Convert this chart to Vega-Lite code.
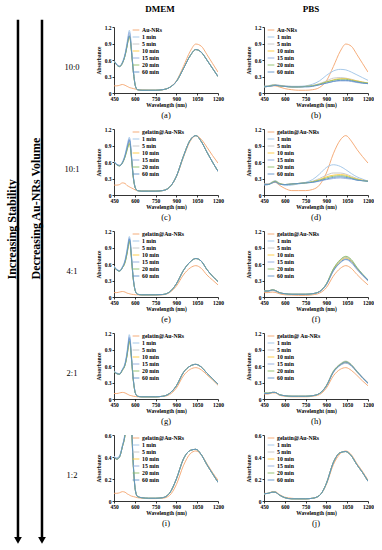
{
"$schema":"https://vega.github.io/schema/vega-lite/v6.json",
"background":"white",
"padding":0,
"autosize":{"type":"pad"},
"spacing":0,
"resolve":{"scale":{"color":"independent"},"legend":{"color":"independent"}},
"datasets":{
"a":[
{"w":450,"g":0.13,"m1":0.59,"m5":0.58,"m10":0.58,"m15":0.59,"m20":0.58,"m60":0.58},
{"w":470,"g":0.13,"m1":0.52,"m5":0.51,"m10":0.51,"m15":0.52,"m20":0.51,"m60":0.51},
{"w":490,"g":0.14,"m1":0.49,"m5":0.48,"m10":0.48,"m15":0.49,"m20":0.48,"m60":0.48},
{"w":510,"g":0.155,"m1":0.56,"m5":0.54,"m10":0.54,"m15":0.55,"m20":0.54,"m60":0.54},
{"w":530,"g":0.14,"m1":0.72,"m5":0.69,"m10":0.68,"m15":0.70,"m20":0.68,"m60":0.69},
{"w":545,"g":0.12,"m1":0.93,"m5":0.88,"m10":0.86,"m15":0.90,"m20":0.86,"m60":0.87},
{"w":553,"g":0.11,"m1":1.06,"m5":0.99,"m10":0.96,"m15":1.02,"m20":0.97,"m60":0.98},
{"w":560,"g":0.10,"m1":1.14,"m5":1.06,"m10":1.01,"m15":1.10,"m20":1.03,"m60":1.04},
{"w":567,"g":0.095,"m1":1.08,"m5":1.01,"m10":0.97,"m15":1.04,"m20":0.98,"m60":0.99},
{"w":575,"g":0.09,"m1":0.85,"m5":0.80,"m10":0.77,"m15":0.82,"m20":0.78,"m60":0.79},
{"w":590,"g":0.08,"m1":0.40,"m5":0.38,"m10":0.37,"m15":0.39,"m20":0.38,"m60":0.38},
{"w":605,"g":0.07,"m1":0.13,"m5":0.12,"m10":0.12,"m15":0.12,"m20":0.12,"m60":0.12},
{"w":620,"g":0.06,"m1":0.06,"m5":0.06,"m10":0.06,"m15":0.06,"m20":0.06,"m60":0.06},
{"w":650,"g":0.055,"m1":0.05,"m5":0.05,"m10":0.05,"m15":0.05,"m20":0.05,"m60":0.05},
{"w":700,"g":0.05,"m1":0.05,"m5":0.05,"m10":0.05,"m15":0.05,"m20":0.05,"m60":0.05},
{"w":750,"g":0.05,"m1":0.05,"m5":0.05,"m10":0.05,"m15":0.05,"m20":0.05,"m60":0.05},
{"w":800,"g":0.06,"m1":0.06,"m5":0.06,"m10":0.06,"m15":0.06,"m20":0.06,"m60":0.06},
{"w":850,"g":0.10,"m1":0.10,"m5":0.10,"m10":0.10,"m15":0.10,"m20":0.10,"m60":0.10},
{"w":900,"g":0.22,"m1":0.21,"m5":0.21,"m10":0.21,"m15":0.21,"m20":0.21,"m60":0.21},
{"w":950,"g":0.48,"m1":0.44,"m5":0.44,"m10":0.44,"m15":0.44,"m20":0.44,"m60":0.44},
{"w":1000,"g":0.76,"m1":0.68,"m5":0.68,"m10":0.68,"m15":0.68,"m20":0.68,"m60":0.68},
{"w":1040,"g":0.89,"m1":0.79,"m5":0.79,"m10":0.79,"m15":0.79,"m20":0.79,"m60":0.79},
{"w":1080,"g":0.85,"m1":0.74,"m5":0.74,"m10":0.74,"m15":0.74,"m20":0.74,"m60":0.74},
{"w":1120,"g":0.70,"m1":0.60,"m5":0.60,"m10":0.60,"m15":0.60,"m20":0.60,"m60":0.60},
{"w":1160,"g":0.54,"m1":0.45,"m5":0.45,"m10":0.45,"m15":0.45,"m20":0.45,"m60":0.45},
{"w":1200,"g":0.38,"m1":0.30,"m5":0.30,"m10":0.30,"m15":0.30,"m20":0.30,"m60":0.30}
],
"b":[
{"w":450,"g":0.12,"m1":0.12,"m5":0.12,"m10":0.11,"m15":0.11,"m20":0.12,"m60":0.11},
{"w":480,"g":0.12,"m1":0.13,"m5":0.13,"m10":0.12,"m15":0.12,"m20":0.12,"m60":0.12},
{"w":510,"g":0.13,"m1":0.15,"m5":0.14,"m10":0.14,"m15":0.13,"m20":0.14,"m60":0.13},
{"w":530,"g":0.13,"m1":0.155,"m5":0.15,"m10":0.14,"m15":0.14,"m20":0.14,"m60":0.14},
{"w":560,"g":0.11,"m1":0.14,"m5":0.14,"m10":0.13,"m15":0.13,"m20":0.13,"m60":0.13},
{"w":600,"g":0.08,"m1":0.13,"m5":0.13,"m10":0.12,"m15":0.12,"m20":0.12,"m60":0.12},
{"w":650,"g":0.06,"m1":0.12,"m5":0.12,"m10":0.11,"m15":0.11,"m20":0.11,"m60":0.11},
{"w":700,"g":0.05,"m1":0.12,"m5":0.12,"m10":0.11,"m15":0.11,"m20":0.11,"m60":0.11},
{"w":750,"g":0.05,"m1":0.13,"m5":0.12,"m10":0.12,"m15":0.12,"m20":0.12,"m60":0.11},
{"w":800,"g":0.06,"m1":0.16,"m5":0.14,"m10":0.13,"m15":0.13,"m20":0.13,"m60":0.12},
{"w":850,"g":0.10,"m1":0.22,"m5":0.17,"m10":0.16,"m15":0.15,"m20":0.16,"m60":0.15},
{"w":900,"g":0.22,"m1":0.32,"m5":0.22,"m10":0.20,"m15":0.18,"m20":0.20,"m60":0.18},
{"w":950,"g":0.48,"m1":0.40,"m5":0.27,"m10":0.24,"m15":0.21,"m20":0.23,"m60":0.21},
{"w":1000,"g":0.76,"m1":0.43,"m5":0.28,"m10":0.26,"m15":0.22,"m20":0.25,"m60":0.23},
{"w":1040,"g":0.89,"m1":0.42,"m5":0.27,"m10":0.26,"m15":0.22,"m20":0.25,"m60":0.23},
{"w":1080,"g":0.85,"m1":0.38,"m5":0.25,"m10":0.24,"m15":0.21,"m20":0.23,"m60":0.22},
{"w":1120,"g":0.70,"m1":0.33,"m5":0.22,"m10":0.22,"m15":0.19,"m20":0.21,"m60":0.20},
{"w":1160,"g":0.54,"m1":0.28,"m5":0.20,"m10":0.20,"m15":0.18,"m20":0.19,"m60":0.18},
{"w":1200,"g":0.38,"m1":0.23,"m5":0.18,"m10":0.18,"m15":0.17,"m20":0.18,"m60":0.17}
],
"c":[
{"w":450,"g":0.18,"m1":0.61,"m5":0.60,"m10":0.60,"m15":0.61,"m20":0.60,"m60":0.60},
{"w":470,"g":0.18,"m1":0.56,"m5":0.55,"m10":0.55,"m15":0.56,"m20":0.55,"m60":0.55},
{"w":490,"g":0.19,"m1":0.54,"m5":0.53,"m10":0.53,"m15":0.54,"m20":0.53,"m60":0.53},
{"w":510,"g":0.22,"m1":0.60,"m5":0.58,"m10":0.58,"m15":0.59,"m20":0.58,"m60":0.58},
{"w":530,"g":0.21,"m1":0.74,"m5":0.71,"m10":0.70,"m15":0.72,"m20":0.69,"m60":0.71},
{"w":545,"g":0.17,"m1":0.91,"m5":0.85,"m10":0.83,"m15":0.88,"m20":0.82,"m60":0.86},
{"w":553,"g":0.16,"m1":1.00,"m5":0.93,"m10":0.90,"m15":0.97,"m20":0.89,"m60":0.94},
{"w":560,"g":0.15,"m1":1.05,"m5":0.98,"m10":0.95,"m15":1.02,"m20":0.93,"m60":1.00},
{"w":567,"g":0.14,"m1":0.99,"m5":0.93,"m10":0.90,"m15":0.96,"m20":0.88,"m60":0.94},
{"w":575,"g":0.13,"m1":0.76,"m5":0.72,"m10":0.70,"m15":0.74,"m20":0.69,"m60":0.72},
{"w":590,"g":0.11,"m1":0.33,"m5":0.31,"m10":0.30,"m15":0.32,"m20":0.30,"m60":0.31},
{"w":605,"g":0.09,"m1":0.13,"m5":0.12,"m10":0.12,"m15":0.12,"m20":0.12,"m60":0.12},
{"w":620,"g":0.08,"m1":0.08,"m5":0.08,"m10":0.08,"m15":0.08,"m20":0.08,"m60":0.08},
{"w":650,"g":0.07,"m1":0.07,"m5":0.07,"m10":0.07,"m15":0.07,"m20":0.07,"m60":0.07},
{"w":700,"g":0.07,"m1":0.07,"m5":0.07,"m10":0.07,"m15":0.07,"m20":0.07,"m60":0.07},
{"w":750,"g":0.07,"m1":0.07,"m5":0.07,"m10":0.07,"m15":0.07,"m20":0.07,"m60":0.07},
{"w":800,"g":0.08,"m1":0.08,"m5":0.08,"m10":0.08,"m15":0.08,"m20":0.08,"m60":0.08},
{"w":850,"g":0.14,"m1":0.14,"m5":0.14,"m10":0.14,"m15":0.14,"m20":0.14,"m60":0.14},
{"w":900,"g":0.33,"m1":0.34,"m5":0.34,"m10":0.34,"m15":0.34,"m20":0.34,"m60":0.34},
{"w":950,"g":0.68,"m1":0.70,"m5":0.70,"m10":0.70,"m15":0.70,"m20":0.70,"m60":0.70},
{"w":1000,"g":0.98,"m1":1.00,"m5":1.00,"m10":1.00,"m15":1.00,"m20":1.00,"m60":1.00},
{"w":1040,"g":1.08,"m1":1.08,"m5":1.08,"m10":1.08,"m15":1.08,"m20":1.08,"m60":1.08},
{"w":1080,"g":1.01,"m1":0.97,"m5":0.97,"m10":0.97,"m15":0.97,"m20":0.97,"m60":0.97},
{"w":1120,"g":0.87,"m1":0.78,"m5":0.78,"m10":0.78,"m15":0.78,"m20":0.78,"m60":0.78},
{"w":1160,"g":0.72,"m1":0.60,"m5":0.60,"m10":0.60,"m15":0.60,"m20":0.60,"m60":0.60},
{"w":1200,"g":0.58,"m1":0.43,"m5":0.43,"m10":0.43,"m15":0.43,"m20":0.43,"m60":0.43}
],
"d":[
{"w":450,"g":0.20,"m1":0.20,"m5":0.19,"m10":0.19,"m15":0.18,"m20":0.19,"m60":0.19},
{"w":480,"g":0.20,"m1":0.20,"m5":0.20,"m10":0.19,"m15":0.19,"m20":0.19,"m60":0.19},
{"w":510,"g":0.22,"m1":0.24,"m5":0.23,"m10":0.23,"m15":0.22,"m20":0.23,"m60":0.22},
{"w":530,"g":0.23,"m1":0.26,"m5":0.25,"m10":0.25,"m15":0.24,"m20":0.25,"m60":0.24},
{"w":560,"g":0.18,"m1":0.22,"m5":0.21,"m10":0.21,"m15":0.20,"m20":0.21,"m60":0.20},
{"w":600,"g":0.12,"m1":0.17,"m5":0.19,"m10":0.19,"m15":0.19,"m20":0.19,"m60":0.19},
{"w":650,"g":0.08,"m1":0.18,"m5":0.20,"m10":0.20,"m15":0.20,"m20":0.20,"m60":0.20},
{"w":700,"g":0.08,"m1":0.20,"m5":0.21,"m10":0.21,"m15":0.21,"m20":0.21,"m60":0.21},
{"w":750,"g":0.08,"m1":0.23,"m5":0.22,"m10":0.22,"m15":0.22,"m20":0.22,"m60":0.22},
{"w":800,"g":0.10,"m1":0.28,"m5":0.25,"m10":0.24,"m15":0.23,"m20":0.24,"m60":0.23},
{"w":850,"g":0.18,"m1":0.38,"m5":0.30,"m10":0.28,"m15":0.25,"m20":0.27,"m60":0.26},
{"w":900,"g":0.40,"m1":0.50,"m5":0.36,"m10":0.33,"m15":0.28,"m20":0.31,"m60":0.29},
{"w":950,"g":0.75,"m1":0.55,"m5":0.40,"m10":0.36,"m15":0.30,"m20":0.34,"m60":0.32},
{"w":1000,"g":1.00,"m1":0.52,"m5":0.40,"m10":0.37,"m15":0.31,"m20":0.35,"m60":0.33},
{"w":1040,"g":1.08,"m1":0.46,"m5":0.38,"m10":0.36,"m15":0.30,"m20":0.34,"m60":0.32},
{"w":1080,"g":0.98,"m1":0.39,"m5":0.34,"m10":0.32,"m15":0.29,"m20":0.31,"m60":0.30},
{"w":1120,"g":0.83,"m1":0.33,"m5":0.30,"m10":0.29,"m15":0.27,"m20":0.28,"m60":0.27},
{"w":1160,"g":0.70,"m1":0.29,"m5":0.27,"m10":0.27,"m15":0.26,"m20":0.26,"m60":0.26},
{"w":1200,"g":0.58,"m1":0.25,"m5":0.25,"m10":0.25,"m15":0.25,"m20":0.25,"m60":0.25}
],
"e":[
{"w":450,"g":0.08,"m1":0.56,"m5":0.55,"m10":0.55,"m15":0.56,"m20":0.55,"m60":0.55},
{"w":470,"g":0.08,"m1":0.50,"m5":0.49,"m10":0.49,"m15":0.50,"m20":0.49,"m60":0.49},
{"w":490,"g":0.09,"m1":0.48,"m5":0.47,"m10":0.47,"m15":0.48,"m20":0.47,"m60":0.47},
{"w":510,"g":0.10,"m1":0.55,"m5":0.53,"m10":0.53,"m15":0.54,"m20":0.53,"m60":0.53},
{"w":530,"g":0.09,"m1":0.68,"m5":0.64,"m10":0.63,"m15":0.66,"m20":0.63,"m60":0.65},
{"w":545,"g":0.07,"m1":0.88,"m5":0.82,"m10":0.80,"m15":0.85,"m20":0.80,"m60":0.83},
{"w":553,"g":0.065,"m1":1.01,"m5":0.94,"m10":0.92,"m15":0.98,"m20":0.92,"m60":0.95},
{"w":560,"g":0.06,"m1":1.10,"m5":1.04,"m10":1.01,"m15":1.07,"m20":1.02,"m60":1.05},
{"w":567,"g":0.055,"m1":1.04,"m5":0.98,"m10":0.96,"m15":1.01,"m20":0.96,"m60":0.99},
{"w":575,"g":0.05,"m1":0.79,"m5":0.75,"m10":0.73,"m15":0.77,"m20":0.72,"m60":0.75},
{"w":590,"g":0.045,"m1":0.33,"m5":0.31,"m10":0.30,"m15":0.32,"m20":0.30,"m60":0.31},
{"w":605,"g":0.04,"m1":0.11,"m5":0.10,"m10":0.10,"m15":0.10,"m20":0.10,"m60":0.10},
{"w":620,"g":0.04,"m1":0.05,"m5":0.05,"m10":0.05,"m15":0.05,"m20":0.05,"m60":0.05},
{"w":650,"g":0.035,"m1":0.04,"m5":0.04,"m10":0.04,"m15":0.04,"m20":0.04,"m60":0.04},
{"w":700,"g":0.035,"m1":0.04,"m5":0.04,"m10":0.04,"m15":0.04,"m20":0.04,"m60":0.04},
{"w":750,"g":0.035,"m1":0.04,"m5":0.04,"m10":0.04,"m15":0.04,"m20":0.04,"m60":0.04},
{"w":800,"g":0.04,"m1":0.045,"m5":0.045,"m10":0.045,"m15":0.045,"m20":0.045,"m60":0.045},
{"w":850,"g":0.08,"m1":0.09,"m5":0.09,"m10":0.09,"m15":0.09,"m20":0.09,"m60":0.09},
{"w":900,"g":0.20,"m1":0.24,"m5":0.24,"m10":0.24,"m15":0.24,"m20":0.24,"m60":0.24},
{"w":950,"g":0.40,"m1":0.48,"m5":0.48,"m10":0.48,"m15":0.48,"m20":0.48,"m60":0.48},
{"w":1000,"g":0.53,"m1":0.64,"m5":0.64,"m10":0.64,"m15":0.64,"m20":0.64,"m60":0.64},
{"w":1040,"g":0.57,"m1":0.70,"m5":0.70,"m10":0.70,"m15":0.70,"m20":0.70,"m60":0.70},
{"w":1080,"g":0.52,"m1":0.65,"m5":0.65,"m10":0.65,"m15":0.65,"m20":0.65,"m60":0.65},
{"w":1120,"g":0.40,"m1":0.50,"m5":0.50,"m10":0.50,"m15":0.50,"m20":0.50,"m60":0.50},
{"w":1160,"g":0.31,"m1":0.38,"m5":0.38,"m10":0.38,"m15":0.38,"m20":0.38,"m60":0.38},
{"w":1200,"g":0.22,"m1":0.28,"m5":0.28,"m10":0.28,"m15":0.28,"m20":0.28,"m60":0.28}
],
"f":[
{"w":450,"g":0.08,"m1":0.11,"m5":0.11,"m10":0.11,"m15":0.10,"m20":0.11,"m60":0.11},
{"w":480,"g":0.08,"m1":0.11,"m5":0.11,"m10":0.11,"m15":0.10,"m20":0.11,"m60":0.11},
{"w":510,"g":0.09,"m1":0.13,"m5":0.13,"m10":0.13,"m15":0.12,"m20":0.13,"m60":0.13},
{"w":530,"g":0.085,"m1":0.12,"m5":0.12,"m10":0.12,"m15":0.11,"m20":0.12,"m60":0.12},
{"w":560,"g":0.06,"m1":0.08,"m5":0.08,"m10":0.08,"m15":0.08,"m20":0.08,"m60":0.08},
{"w":600,"g":0.04,"m1":0.06,"m5":0.06,"m10":0.06,"m15":0.06,"m20":0.06,"m60":0.06},
{"w":650,"g":0.035,"m1":0.05,"m5":0.05,"m10":0.05,"m15":0.05,"m20":0.05,"m60":0.05},
{"w":700,"g":0.03,"m1":0.05,"m5":0.05,"m10":0.05,"m15":0.05,"m20":0.05,"m60":0.05},
{"w":750,"g":0.03,"m1":0.05,"m5":0.05,"m10":0.05,"m15":0.05,"m20":0.05,"m60":0.05},
{"w":800,"g":0.04,"m1":0.06,"m5":0.06,"m10":0.06,"m15":0.06,"m20":0.06,"m60":0.06},
{"w":850,"g":0.07,"m1":0.10,"m5":0.10,"m10":0.10,"m15":0.09,"m20":0.10,"m60":0.10},
{"w":900,"g":0.17,"m1":0.24,"m5":0.24,"m10":0.23,"m15":0.22,"m20":0.24,"m60":0.23},
{"w":950,"g":0.38,"m1":0.50,"m5":0.51,"m10":0.49,"m15":0.47,"m20":0.51,"m60":0.48},
{"w":1000,"g":0.52,"m1":0.66,"m5":0.67,"m10":0.65,"m15":0.62,"m20":0.68,"m60":0.63},
{"w":1040,"g":0.57,"m1":0.72,"m5":0.73,"m10":0.71,"m15":0.68,"m20":0.74,"m60":0.69},
{"w":1080,"g":0.52,"m1":0.66,"m5":0.67,"m10":0.65,"m15":0.62,"m20":0.68,"m60":0.64},
{"w":1120,"g":0.41,"m1":0.52,"m5":0.53,"m10":0.52,"m15":0.50,"m20":0.54,"m60":0.52},
{"w":1160,"g":0.31,"m1":0.40,"m5":0.41,"m10":0.40,"m15":0.39,"m20":0.42,"m60":0.41},
{"w":1200,"g":0.22,"m1":0.30,"m5":0.31,"m10":0.30,"m15":0.29,"m20":0.31,"m60":0.31}
],
"g":[
{"w":450,"g":0.10,"m1":0.51,"m5":0.50,"m10":0.50,"m15":0.51,"m20":0.50,"m60":0.50},
{"w":470,"g":0.10,"m1":0.47,"m5":0.46,"m10":0.46,"m15":0.47,"m20":0.46,"m60":0.46},
{"w":490,"g":0.11,"m1":0.46,"m5":0.45,"m10":0.45,"m15":0.46,"m20":0.45,"m60":0.45},
{"w":510,"g":0.12,"m1":0.54,"m5":0.52,"m10":0.52,"m15":0.53,"m20":0.52,"m60":0.53},
{"w":530,"g":0.11,"m1":0.66,"m5":0.62,"m10":0.62,"m15":0.64,"m20":0.62,"m60":0.63},
{"w":545,"g":0.09,"m1":0.88,"m5":0.81,"m10":0.80,"m15":0.85,"m20":0.80,"m60":0.83},
{"w":553,"g":0.08,"m1":1.05,"m5":0.96,"m10":0.94,"m15":1.01,"m20":0.94,"m60":0.98},
{"w":560,"g":0.07,"m1":1.17,"m5":1.08,"m10":1.05,"m15":1.13,"m20":1.05,"m60":1.10},
{"w":567,"g":0.065,"m1":1.10,"m5":1.02,"m10":0.99,"m15":1.06,"m20":0.99,"m60":1.03},
{"w":575,"g":0.06,"m1":0.83,"m5":0.78,"m10":0.76,"m15":0.80,"m20":0.76,"m60":0.78},
{"w":590,"g":0.05,"m1":0.35,"m5":0.33,"m10":0.32,"m15":0.34,"m20":0.32,"m60":0.33},
{"w":605,"g":0.045,"m1":0.11,"m5":0.10,"m10":0.10,"m15":0.10,"m20":0.10,"m60":0.10},
{"w":620,"g":0.04,"m1":0.05,"m5":0.05,"m10":0.05,"m15":0.05,"m20":0.05,"m60":0.05},
{"w":650,"g":0.04,"m1":0.04,"m5":0.04,"m10":0.04,"m15":0.04,"m20":0.04,"m60":0.04},
{"w":700,"g":0.04,"m1":0.04,"m5":0.04,"m10":0.04,"m15":0.04,"m20":0.04,"m60":0.04},
{"w":750,"g":0.04,"m1":0.04,"m5":0.04,"m10":0.04,"m15":0.04,"m20":0.04,"m60":0.04},
{"w":800,"g":0.045,"m1":0.05,"m5":0.05,"m10":0.05,"m15":0.05,"m20":0.05,"m60":0.05},
{"w":850,"g":0.08,"m1":0.10,"m5":0.10,"m10":0.10,"m15":0.10,"m20":0.10,"m60":0.10},
{"w":900,"g":0.20,"m1":0.24,"m5":0.24,"m10":0.24,"m15":0.24,"m20":0.24,"m60":0.24},
{"w":950,"g":0.42,"m1":0.48,"m5":0.48,"m10":0.48,"m15":0.48,"m20":0.48,"m60":0.48},
{"w":1000,"g":0.54,"m1":0.60,"m5":0.60,"m10":0.60,"m15":0.60,"m20":0.60,"m60":0.60},
{"w":1040,"g":0.57,"m1":0.63,"m5":0.63,"m10":0.63,"m15":0.63,"m20":0.63,"m60":0.63},
{"w":1080,"g":0.53,"m1":0.58,"m5":0.58,"m10":0.58,"m15":0.58,"m20":0.58,"m60":0.58},
{"w":1120,"g":0.44,"m1":0.47,"m5":0.47,"m10":0.47,"m15":0.47,"m20":0.47,"m60":0.47},
{"w":1160,"g":0.35,"m1":0.37,"m5":0.37,"m10":0.37,"m15":0.37,"m20":0.37,"m60":0.37},
{"w":1200,"g":0.25,"m1":0.27,"m5":0.27,"m10":0.27,"m15":0.27,"m20":0.27,"m60":0.27}
],
"h":[
{"w":450,"g":0.09,"m1":0.11,"m5":0.11,"m10":0.10,"m15":0.10,"m20":0.11,"m60":0.10},
{"w":480,"g":0.09,"m1":0.11,"m5":0.11,"m10":0.10,"m15":0.10,"m20":0.11,"m60":0.10},
{"w":510,"g":0.11,"m1":0.12,"m5":0.12,"m10":0.12,"m15":0.12,"m20":0.12,"m60":0.12},
{"w":530,"g":0.11,"m1":0.12,"m5":0.12,"m10":0.12,"m15":0.12,"m20":0.12,"m60":0.12},
{"w":560,"g":0.07,"m1":0.08,"m5":0.08,"m10":0.08,"m15":0.08,"m20":0.08,"m60":0.08},
{"w":600,"g":0.05,"m1":0.06,"m5":0.06,"m10":0.06,"m15":0.06,"m20":0.06,"m60":0.06},
{"w":650,"g":0.04,"m1":0.05,"m5":0.05,"m10":0.05,"m15":0.05,"m20":0.05,"m60":0.05},
{"w":700,"g":0.04,"m1":0.05,"m5":0.05,"m10":0.05,"m15":0.05,"m20":0.05,"m60":0.05},
{"w":750,"g":0.04,"m1":0.05,"m5":0.05,"m10":0.05,"m15":0.05,"m20":0.05,"m60":0.05},
{"w":800,"g":0.05,"m1":0.06,"m5":0.06,"m10":0.06,"m15":0.06,"m20":0.06,"m60":0.06},
{"w":850,"g":0.08,"m1":0.10,"m5":0.10,"m10":0.10,"m15":0.10,"m20":0.10,"m60":0.10},
{"w":900,"g":0.20,"m1":0.24,"m5":0.25,"m10":0.24,"m15":0.23,"m20":0.24,"m60":0.24},
{"w":950,"g":0.42,"m1":0.50,"m5":0.51,"m10":0.49,"m15":0.48,"m20":0.50,"m60":0.49},
{"w":1000,"g":0.54,"m1":0.63,"m5":0.64,"m10":0.62,"m15":0.61,"m20":0.63,"m60":0.62},
{"w":1040,"g":0.57,"m1":0.67,"m5":0.69,"m10":0.66,"m15":0.65,"m20":0.68,"m60":0.67},
{"w":1080,"g":0.52,"m1":0.62,"m5":0.63,"m10":0.61,"m15":0.60,"m20":0.62,"m60":0.61},
{"w":1120,"g":0.43,"m1":0.50,"m5":0.51,"m10":0.49,"m15":0.49,"m20":0.50,"m60":0.50},
{"w":1160,"g":0.33,"m1":0.39,"m5":0.40,"m10":0.39,"m15":0.38,"m20":0.39,"m60":0.39},
{"w":1200,"g":0.24,"m1":0.29,"m5":0.30,"m10":0.29,"m15":0.28,"m20":0.29,"m60":0.29}
],
"i":[
{"w":450,"g":0.07,"m1":0.41,"m5":0.40,"m10":0.40,"m15":0.41,"m20":0.40,"m60":0.40},
{"w":470,"g":0.07,"m1":0.39,"m5":0.38,"m10":0.38,"m15":0.39,"m20":0.38,"m60":0.38},
{"w":490,"g":0.075,"m1":0.41,"m5":0.40,"m10":0.40,"m15":0.41,"m20":0.40,"m60":0.40},
{"w":510,"g":0.085,"m1":0.50,"m5":0.49,"m10":0.49,"m15":0.50,"m20":0.49,"m60":0.49},
{"w":530,"g":0.08,"m1":0.63,"m5":0.61,"m10":0.60,"m15":0.62,"m20":0.60,"m60":0.61},
{"w":545,"g":0.065,"m1":0.85,"m5":0.80,"m10":0.78,"m15":0.83,"m20":0.78,"m60":0.81},
{"w":553,"g":0.06,"m1":1.00,"m5":0.93,"m10":0.91,"m15":0.97,"m20":0.91,"m60":0.94},
{"w":560,"g":0.055,"m1":1.10,"m5":1.02,"m10":0.99,"m15":1.06,"m20":0.99,"m60":1.03},
{"w":567,"g":0.05,"m1":1.04,"m5":0.97,"m10":0.94,"m15":1.00,"m20":0.94,"m60":0.98},
{"w":575,"g":0.045,"m1":0.78,"m5":0.74,"m10":0.72,"m15":0.76,"m20":0.72,"m60":0.74},
{"w":590,"g":0.04,"m1":0.33,"m5":0.31,"m10":0.30,"m15":0.32,"m20":0.30,"m60":0.31},
{"w":605,"g":0.035,"m1":0.10,"m5":0.09,"m10":0.09,"m15":0.09,"m20":0.09,"m60":0.09},
{"w":620,"g":0.03,"m1":0.04,"m5":0.04,"m10":0.04,"m15":0.04,"m20":0.04,"m60":0.04},
{"w":650,"g":0.025,"m1":0.03,"m5":0.03,"m10":0.03,"m15":0.03,"m20":0.03,"m60":0.03},
{"w":700,"g":0.022,"m1":0.025,"m5":0.025,"m10":0.025,"m15":0.025,"m20":0.025,"m60":0.025},
{"w":750,"g":0.022,"m1":0.025,"m5":0.025,"m10":0.025,"m15":0.025,"m20":0.025,"m60":0.025},
{"w":800,"g":0.025,"m1":0.03,"m5":0.03,"m10":0.03,"m15":0.03,"m20":0.03,"m60":0.03},
{"w":850,"g":0.05,"m1":0.07,"m5":0.07,"m10":0.07,"m15":0.07,"m20":0.07,"m60":0.07},
{"w":900,"g":0.15,"m1":0.20,"m5":0.20,"m10":0.20,"m15":0.20,"m20":0.20,"m60":0.20},
{"w":950,"g":0.32,"m1":0.38,"m5":0.38,"m10":0.38,"m15":0.38,"m20":0.38,"m60":0.38},
{"w":1000,"g":0.43,"m1":0.46,"m5":0.46,"m10":0.46,"m15":0.46,"m20":0.46,"m60":0.46},
{"w":1040,"g":0.455,"m1":0.47,"m5":0.47,"m10":0.47,"m15":0.47,"m20":0.47,"m60":0.47},
{"w":1080,"g":0.42,"m1":0.42,"m5":0.42,"m10":0.42,"m15":0.42,"m20":0.42,"m60":0.42},
{"w":1120,"g":0.34,"m1":0.33,"m5":0.33,"m10":0.33,"m15":0.33,"m20":0.33,"m60":0.33},
{"w":1160,"g":0.26,"m1":0.25,"m5":0.25,"m10":0.25,"m15":0.25,"m20":0.25,"m60":0.25},
{"w":1200,"g":0.19,"m1":0.17,"m5":0.17,"m10":0.17,"m15":0.17,"m20":0.17,"m60":0.17}
],
"j":[
{"w":450,"g":0.07,"m1":0.065,"m5":0.065,"m10":0.065,"m15":0.065,"m20":0.065,"m60":0.065},
{"w":480,"g":0.07,"m1":0.07,"m5":0.07,"m10":0.07,"m15":0.07,"m20":0.07,"m60":0.07},
{"w":510,"g":0.085,"m1":0.08,"m5":0.08,"m10":0.08,"m15":0.08,"m20":0.08,"m60":0.08},
{"w":530,"g":0.085,"m1":0.08,"m5":0.08,"m10":0.08,"m15":0.08,"m20":0.08,"m60":0.08},
{"w":560,"g":0.06,"m1":0.055,"m5":0.055,"m10":0.055,"m15":0.055,"m20":0.055,"m60":0.055},
{"w":600,"g":0.035,"m1":0.03,"m5":0.03,"m10":0.03,"m15":0.03,"m20":0.03,"m60":0.03},
{"w":650,"g":0.025,"m1":0.02,"m5":0.02,"m10":0.02,"m15":0.02,"m20":0.02,"m60":0.02},
{"w":700,"g":0.02,"m1":0.02,"m5":0.02,"m10":0.02,"m15":0.02,"m20":0.02,"m60":0.02},
{"w":750,"g":0.02,"m1":0.02,"m5":0.02,"m10":0.02,"m15":0.02,"m20":0.02,"m60":0.02},
{"w":800,"g":0.025,"m1":0.025,"m5":0.025,"m10":0.025,"m15":0.025,"m20":0.025,"m60":0.025},
{"w":850,"g":0.05,"m1":0.05,"m5":0.05,"m10":0.05,"m15":0.05,"m20":0.05,"m60":0.05},
{"w":900,"g":0.15,"m1":0.16,"m5":0.16,"m10":0.16,"m15":0.16,"m20":0.16,"m60":0.16},
{"w":950,"g":0.33,"m1":0.35,"m5":0.35,"m10":0.35,"m15":0.35,"m20":0.35,"m60":0.35},
{"w":1000,"g":0.43,"m1":0.44,"m5":0.44,"m10":0.44,"m15":0.44,"m20":0.44,"m60":0.44},
{"w":1040,"g":0.455,"m1":0.45,"m5":0.45,"m10":0.45,"m15":0.45,"m20":0.45,"m60":0.45},
{"w":1080,"g":0.42,"m1":0.41,"m5":0.41,"m10":0.41,"m15":0.41,"m20":0.41,"m60":0.41},
{"w":1120,"g":0.34,"m1":0.33,"m5":0.33,"m10":0.33,"m15":0.33,"m20":0.33,"m60":0.33},
{"w":1160,"g":0.27,"m1":0.26,"m5":0.26,"m10":0.26,"m15":0.26,"m20":0.26,"m60":0.26},
{"w":1200,"g":0.19,"m1":0.18,"m5":0.18,"m10":0.18,"m15":0.18,"m20":0.18,"m60":0.18}
]
},
"hconcat":[
{
"width":58,"height":548,
"layer":[
{"data":{"values":[{"x":31,"y1":3.6,"y2":98.0},{"x":72.4,"y1":3.6,"y2":98.0}]},
 "mark":{"type":"rule","strokeWidth":2.5,"color":"#000"},
 "encoding":{"x":{"field":"x","type":"quantitative","scale":{"domain":[0,100]},"axis":null},"y":{"field":"y1","type":"quantitative","scale":{"domain":[0,100],"reverse":true},"axis":null},"y2":{"field":"y2"}}},
{"data":{"values":[{"x":31,"y":98.6},{"x":72.4,"y":98.6}]},
 "mark":{"type":"point","shape":"triangle-down","filled":true,"size":60,"color":"#000","opacity":1},
 "encoding":{"x":{"field":"x","type":"quantitative","axis":null},"y":{"field":"y","type":"quantitative","axis":null}}},
{"data":{"values":[{"x":20.7,"y":51,"t":"Increasing  Stability"},{"x":62,"y":51,"t":"Decreasing Au-NRs Volume"}]},
 "mark":{"type":"text","angle":270,"align":"left","baseline":"middle","font":"Liberation Serif","fontSize":12,"fontWeight":"bold","color":"#000"},
 "encoding":{"x":{"field":"x","type":"quantitative","axis":null},"y":{"field":"y","type":"quantitative","axis":null},"text":{"field":"t"}}}
]
},
{
"vconcat":[
{"hconcat":[
 {"width":204,"height":18,"data":{"values":[{"t":"DMEM"}]},"mark":{"type":"text","font":"Liberation Serif","fontSize":9,"fontWeight":"bold","color":"#000"},"encoding":{"text":{"field":"t"}}},
 {"width":98,"height":18,"data":{"values":[{"t":"PBS"}]},"mark":{"type":"text","font":"Liberation Serif","fontSize":9,"fontWeight":"bold","color":"#000"},"encoding":{"text":{"field":"t"}}}
],"spacing":0},
{"hconcat":[
 {"width":28,"height":80,"data":{"values":[{"t":"10:0"}]},"mark":{"type":"text","font":"Liberation Serif","fontSize":8.5,"color":"#000"},"encoding":{"text":{"field":"t"}}},
 {"hconcat":[
  {"width":104,"height":66,"data":{"name":"a"},"transform":[{"fold":["g","m1","m5","m10","m15","m20","m60"],"as":["s","v"]}],"mark":{"type":"line","clip":true},"title":"(a)",
   "encoding":{"x":{"field":"w","type":"quantitative","scale":{"domain":[450,1200],"nice":false,"zero":false},"axis":{"values":[450,600,750,900,1050,1200],"format":"d","title":"Wavelength (nm)"}},
   "y":{"field":"v","type":"quantitative","scale":{"domain":[0,1.2],"nice":false},"axis":{"values":[0,0.3,0.6,0.9,1.2],"format":"~g","title":"Absorbance"}},
   "color":{"field":"s","type":"nominal","scale":{"domain":["g","m1","m5","m10","m15","m20","m60"],"range":["#F4A46C","#9DC3E6","#C4C4C4","#FFCA3A","#8FAADC","#8DBE68","#5E91C8"]},"legend":{"title":null,"orient":"none","legendX":18,"legendY":-1,"labelExpr":"{'g':'Au-NRs','m1':'1 min','m5':'5 min','m10':'10 min','m15':'15 min','m20':'20 min','m60':'60 min'}[datum.value]"}}}},
  {"width":104,"height":66,"data":{"name":"b"},"transform":[{"fold":["g","m1","m5","m10","m15","m20","m60"],"as":["s","v"]}],"mark":{"type":"line","clip":true},"title":"(b)",
   "encoding":{"x":{"field":"w","type":"quantitative","scale":{"domain":[450,1200],"nice":false,"zero":false},"axis":{"values":[450,600,750,900,1050,1200],"format":"d","title":"Wavelength (nm)"}},
   "y":{"field":"v","type":"quantitative","scale":{"domain":[0,1.2],"nice":false},"axis":{"values":[0,0.3,0.6,0.9,1.2],"format":"~g","title":"Absorbance"}},
   "color":{"field":"s","type":"nominal","scale":{"domain":["g","m1","m5","m10","m15","m20","m60"],"range":["#F4A46C","#9DC3E6","#C4C4C4","#FFCA3A","#8FAADC","#8DBE68","#5E91C8"]},"legend":{"title":null,"orient":"none","legendX":3,"legendY":-1,"labelExpr":"{'g':'Au-NRs','m1':'1 min','m5':'5 min','m10':'10 min','m15':'15 min','m20':'20 min','m60':'60 min'}[datum.value]"}}}}
 ],"spacing":22,"resolve":{"scale":{"color":"independent"},"legend":{"color":"independent"}}}
],"spacing":10,"resolve":{"scale":{"color":"independent"},"legend":{"color":"independent"}}},
{"hconcat":[
 {"width":28,"height":80,"data":{"values":[{"t":"10:1"}]},"mark":{"type":"text","font":"Liberation Serif","fontSize":8.5,"color":"#000"},"encoding":{"text":{"field":"t"}}},
 {"hconcat":[
  {"width":104,"height":66,"data":{"name":"c"},"transform":[{"fold":["g","m1","m5","m10","m15","m20","m60"],"as":["s","v"]}],"mark":{"type":"line","clip":true},"title":"(c)",
   "encoding":{"x":{"field":"w","type":"quantitative","scale":{"domain":[450,1200],"nice":false,"zero":false},"axis":{"values":[450,600,750,900,1050,1200],"format":"d","title":"Wavelength (nm)"}},
   "y":{"field":"v","type":"quantitative","scale":{"domain":[0,1.2],"nice":false},"axis":{"values":[0,0.3,0.6,0.9,1.2],"format":"~g","title":"Absorbance"}},
   "color":{"field":"s","type":"nominal","scale":{"domain":["g","m1","m5","m10","m15","m20","m60"],"range":["#F4A46C","#9DC3E6","#C4C4C4","#FFCA3A","#8FAADC","#8DBE68","#5E91C8"]},"legend":{"title":null,"orient":"none","legendX":18,"legendY":-1,"labelExpr":"{'g':'gelatin@Au-NRs','m1':'1 min','m5':'5 min','m10':'10 min','m15':'15 min','m20':'20 min','m60':'60 min'}[datum.value]"}}}},
  {"width":104,"height":66,"data":{"name":"d"},"transform":[{"fold":["g","m1","m5","m10","m15","m20","m60"],"as":["s","v"]}],"mark":{"type":"line","clip":true},"title":"(d)",
   "encoding":{"x":{"field":"w","type":"quantitative","scale":{"domain":[450,1200],"nice":false,"zero":false},"axis":{"values":[450,600,750,900,1050,1200],"format":"d","title":"Wavelength (nm)"}},
   "y":{"field":"v","type":"quantitative","scale":{"domain":[0,1.2],"nice":false},"axis":{"values":[0,0.3,0.6,0.9,1.2],"format":"~g","title":"Absorbance"}},
   "color":{"field":"s","type":"nominal","scale":{"domain":["g","m1","m5","m10","m15","m20","m60"],"range":["#F4A46C","#9DC3E6","#C4C4C4","#FFCA3A","#8FAADC","#8DBE68","#5E91C8"]},"legend":{"title":null,"orient":"none","legendX":3,"legendY":-1,"labelExpr":"{'g':'gelatin@Au-NRs','m1':'1 min','m5':'5 min','m10':'10 min','m15':'15 min','m20':'20 min','m60':'60 min'}[datum.value]"}}}}
 ],"spacing":22,"resolve":{"scale":{"color":"independent"},"legend":{"color":"independent"}}}
],"spacing":10,"resolve":{"scale":{"color":"independent"},"legend":{"color":"independent"}}},
{"hconcat":[
 {"width":28,"height":80,"data":{"values":[{"t":"4:1"}]},"mark":{"type":"text","font":"Liberation Serif","fontSize":8.5,"color":"#000"},"encoding":{"text":{"field":"t"}}},
 {"hconcat":[
  {"width":104,"height":66,"data":{"name":"e"},"transform":[{"fold":["g","m1","m5","m10","m15","m20","m60"],"as":["s","v"]}],"mark":{"type":"line","clip":true},"title":"(e)",
   "encoding":{"x":{"field":"w","type":"quantitative","scale":{"domain":[450,1200],"nice":false,"zero":false},"axis":{"values":[450,600,750,900,1050,1200],"format":"d","title":"Wavelength (nm)"}},
   "y":{"field":"v","type":"quantitative","scale":{"domain":[0,1.2],"nice":false},"axis":{"values":[0,0.3,0.6,0.9,1.2],"format":"~g","title":"Absorbance"}},
   "color":{"field":"s","type":"nominal","scale":{"domain":["g","m1","m5","m10","m15","m20","m60"],"range":["#F4A46C","#9DC3E6","#C4C4C4","#FFCA3A","#8FAADC","#8DBE68","#5E91C8"]},"legend":{"title":null,"orient":"none","legendX":18,"legendY":-1,"labelExpr":"{'g':'gelatin@Au-NRs','m1':'1 min','m5':'5 min','m10':'10 min','m15':'15 min','m20':'20 min','m60':'60 min'}[datum.value]"}}}},
  {"width":104,"height":66,"data":{"name":"f"},"transform":[{"fold":["g","m1","m5","m10","m15","m20","m60"],"as":["s","v"]}],"mark":{"type":"line","clip":true},"title":"(f)",
   "encoding":{"x":{"field":"w","type":"quantitative","scale":{"domain":[450,1200],"nice":false,"zero":false},"axis":{"values":[450,600,750,900,1050,1200],"format":"d","title":"Wavelength (nm)"}},
   "y":{"field":"v","type":"quantitative","scale":{"domain":[0,1.2],"nice":false},"axis":{"values":[0,0.3,0.6,0.9,1.2],"format":"~g","title":"Absorbance"}},
   "color":{"field":"s","type":"nominal","scale":{"domain":["g","m1","m5","m10","m15","m20","m60"],"range":["#F4A46C","#9DC3E6","#C4C4C4","#FFCA3A","#8FAADC","#8DBE68","#5E91C8"]},"legend":{"title":null,"orient":"none","legendX":3,"legendY":-1,"labelExpr":"{'g':'gelatin@Au-NRs','m1':'1 min','m5':'5 min','m10':'10 min','m15':'15 min','m20':'20 min','m60':'60 min'}[datum.value]"}}}}
 ],"spacing":22,"resolve":{"scale":{"color":"independent"},"legend":{"color":"independent"}}}
],"spacing":10,"resolve":{"scale":{"color":"independent"},"legend":{"color":"independent"}}},
{"hconcat":[
 {"width":28,"height":80,"data":{"values":[{"t":"2:1"}]},"mark":{"type":"text","font":"Liberation Serif","fontSize":8.5,"color":"#000"},"encoding":{"text":{"field":"t"}}},
 {"hconcat":[
  {"width":104,"height":66,"data":{"name":"g"},"transform":[{"fold":["g","m1","m5","m10","m15","m20","m60"],"as":["s","v"]}],"mark":{"type":"line","clip":true},"title":"(g)",
   "encoding":{"x":{"field":"w","type":"quantitative","scale":{"domain":[450,1200],"nice":false,"zero":false},"axis":{"values":[450,600,750,900,1050,1200],"format":"d","title":"Wavelength (nm)"}},
   "y":{"field":"v","type":"quantitative","scale":{"domain":[0,1.2],"nice":false},"axis":{"values":[0,0.3,0.6,0.9,1.2],"format":"~g","title":"Absorbance"}},
   "color":{"field":"s","type":"nominal","scale":{"domain":["g","m1","m5","m10","m15","m20","m60"],"range":["#F4A46C","#9DC3E6","#C4C4C4","#FFCA3A","#8FAADC","#8DBE68","#5E91C8"]},"legend":{"title":null,"orient":"none","legendX":18,"legendY":-1,"labelExpr":"{'g':'gelatin@Au-NRs','m1':'1 min','m5':'5 min','m10':'10 min','m15':'15 min','m20':'20 min','m60':'60 min'}[datum.value]"}}}},
  {"width":104,"height":66,"data":{"name":"h"},"transform":[{"fold":["g","m1","m5","m10","m15","m20","m60"],"as":["s","v"]}],"mark":{"type":"line","clip":true},"title":"(h)",
   "encoding":{"x":{"field":"w","type":"quantitative","scale":{"domain":[450,1200],"nice":false,"zero":false},"axis":{"values":[450,600,750,900,1050,1200],"format":"d","title":"Wavelenght (nm)"}},
   "y":{"field":"v","type":"quantitative","scale":{"domain":[0,1.2],"nice":false},"axis":{"values":[0,0.3,0.6,0.9,1.2],"format":"~g","title":"Absorbance"}},
   "color":{"field":"s","type":"nominal","scale":{"domain":["g","m1","m5","m10","m15","m20","m60"],"range":["#F4A46C","#9DC3E6","#C4C4C4","#FFCA3A","#8FAADC","#8DBE68","#5E91C8"]},"legend":{"title":null,"orient":"none","legendX":3,"legendY":-1,"labelExpr":"{'g':'gelatin@ Au-NRs','m1':'1 min','m5':'5 min','m10':'10 min','m15':'15 min','m20':'20 min','m60':'60 min'}[datum.value]"}}}}
 ],"spacing":22,"resolve":{"scale":{"color":"independent"},"legend":{"color":"independent"}}}
],"spacing":10,"resolve":{"scale":{"color":"independent"},"legend":{"color":"independent"}}},
{"hconcat":[
 {"width":28,"height":80,"data":{"values":[{"t":"1:2"}]},"mark":{"type":"text","font":"Liberation Serif","fontSize":8.5,"color":"#000"},"encoding":{"text":{"field":"t"}}},
 {"hconcat":[
  {"width":104,"height":66,"data":{"name":"i"},"transform":[{"fold":["g","m1","m5","m10","m15","m20","m60"],"as":["s","v"]}],"mark":{"type":"line","clip":true},"title":"(i)",
   "encoding":{"x":{"field":"w","type":"quantitative","scale":{"domain":[450,1200],"nice":false,"zero":false},"axis":{"values":[450,600,750,900,1050,1200],"format":"d","title":"Wavelength (nm)"}},
   "y":{"field":"v","type":"quantitative","scale":{"domain":[0,0.6],"nice":false},"axis":{"values":[0,0.2,0.4,0.6],"format":"~g","title":"Absorbance"}},
   "color":{"field":"s","type":"nominal","scale":{"domain":["g","m1","m5","m10","m15","m20","m60"],"range":["#F4A46C","#9DC3E6","#C4C4C4","#FFCA3A","#8FAADC","#8DBE68","#5E91C8"]},"legend":{"title":null,"orient":"none","legendX":18,"legendY":-1,"labelExpr":"{'g':'gelatin@Au-NRs','m1':'1 min','m5':'5 min','m10':'10 min','m15':'15 min','m20':'20 min','m60':'60 min'}[datum.value]"}}}},
  {"width":104,"height":66,"data":{"name":"j"},"transform":[{"fold":["g","m1","m5","m10","m15","m20","m60"],"as":["s","v"]}],"mark":{"type":"line","clip":true},"title":"(j)",
   "encoding":{"x":{"field":"w","type":"quantitative","scale":{"domain":[450,1200],"nice":false,"zero":false},"axis":{"values":[450,600,750,900,1050,1200],"format":"d","title":"Wavelength (nm)"}},
   "y":{"field":"v","type":"quantitative","scale":{"domain":[0,0.6],"nice":false},"axis":{"values":[0,0.2,0.4,0.6],"format":"~g","title":"Absorbance"}},
   "color":{"field":"s","type":"nominal","scale":{"domain":["g","m1","m5","m10","m15","m20","m60"],"range":["#F4A46C","#9DC3E6","#C4C4C4","#FFCA3A","#8FAADC","#8DBE68","#5E91C8"]},"legend":{"title":null,"orient":"none","legendX":3,"legendY":-1,"labelExpr":"{'g':'gelatin@Au-NRs','m1':'1 min','m5':'5 min','m10':'10 min','m15':'15 min','m20':'20 min','m60':'60 min'}[datum.value]"}}}}
 ],"spacing":22,"resolve":{"scale":{"color":"independent"},"legend":{"color":"independent"}}}
],"spacing":10,"resolve":{"scale":{"color":"independent"},"legend":{"color":"independent"}}}
],
"spacing":7,
"resolve":{"scale":{"color":"independent"},"legend":{"color":"independent"}}
}
],
"config":{
"view":{"stroke":null},
"font":"Liberation Serif",
"axis":{"grid":false,"domainColor":"#000","domainWidth":0.8,"tickColor":"#000","tickWidth":0.8,"tickSize":2,"labelFont":"Liberation Serif","labelFontSize":5.5,"labelFontWeight":"bold","labelColor":"#000","labelPadding":1,"titleFont":"Liberation Serif","titleFontSize":5.5,"titleFontWeight":"bold","titleColor":"#000","titlePadding":1},
"axisY":{"minExtent":12,"maxExtent":12},
"axisX":{"labelFlush":false,"labelOverlap":false},
"legend":{"symbolType":"stroke","symbolSize":45,"symbolStrokeWidth":1.2,"labelFont":"Liberation Serif","labelFontSize":5.8,"labelFontWeight":"bold","labelColor":"#000","rowPadding":0,"labelOffset":2,"padding":0},
"title":{"orient":"bottom","font":"Liberation Serif","fontSize":8.5,"fontWeight":"normal","color":"#000","offset":3},
"line":{"strokeWidth":0.9,"interpolate":"monotone"}
}
}
